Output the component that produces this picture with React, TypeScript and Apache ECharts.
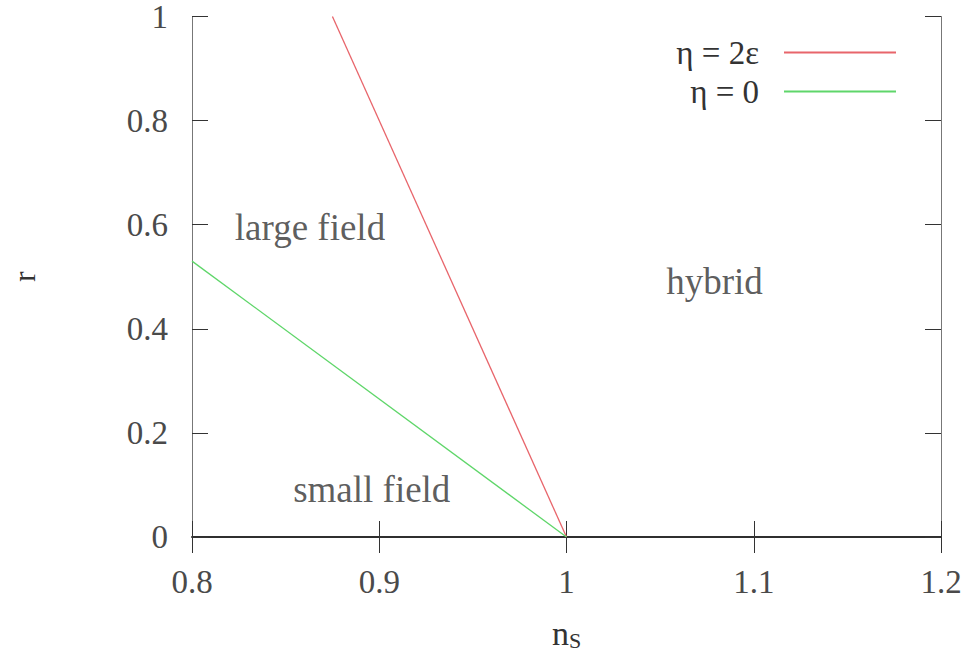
import React, { useEffect, useRef } from "react";
import * as echarts from "echarts";

// Phase boundaries in the (n_S, r) plane
const etaTwoEpsilon: [number, number][] = [
  [0.875, 1.0],
  [1.0, 0.0],
];
const etaZero: [number, number][] = [
  [0.8, 0.53],
  [1.0, 0.0],
];

// Region labels placed at (n_S, r)
const regionNames = ["large field", "hybrid", "small field"];
const regionX = [0.863, 1.079, 0.896];
const regionY = [0.595, 0.49, 0.092];

const seriesNames = ["η = 2ε", "η = 0"];
const seriesColors = ["#e8656b", "#5fd66a"];

const xTicks = [0.8, 0.9, 1.0, 1.1, 1.2];
const yTicks = [0, 0.2, 0.4, 0.6, 0.8, 1];

const FONT = "'Liberation Serif', 'DejaVu Serif', serif";

export default function App() {
  const ref = useRef<HTMLDivElement>(null);

  useEffect(() => {
    if (!ref.current) return;
    const chart = echarts.init(ref.current, undefined, { renderer: "svg" });

    const baseX = {
      type: "value" as const,
      min: xTicks[0],
      max: xTicks[xTicks.length - 1],
      interval: 0.1,
      splitLine: { show: false },
      axisTick: { inside: true, length: 16, lineStyle: { color: "#333", width: 1 } },
      axisLine: { lineStyle: { color: "#222", width: 1.6 } },
    };
    const baseY = {
      type: "value" as const,
      min: yTicks[0],
      max: yTicks[yTicks.length - 1],
      interval: 0.2,
      splitLine: { show: false },
      axisTick: { inside: true, length: 16, lineStyle: { color: "#333", width: 1 } },
      axisLine: { lineStyle: { color: "#777", width: 1 } },
    };

    chart.setOption({
      animation: false,
      backgroundColor: "#ffffff",
      grid: { left: 189, right: 31, top: 16, bottom: 116 },
      xAxis: [
        {
          ...baseX,
          position: "bottom",
          name: "{n|n}{s|S}",
          nameLocation: "middle",
          nameGap: 78,
          nameTextStyle: {
            rich: {
              n: { fontFamily: FONT, fontSize: 34, color: "#333" },
              s: { fontFamily: FONT, fontSize: 22, color: "#333", padding: [14, 0, 0, 0] },
            },
          },
          axisLabel: {
            margin: 28,
            fontFamily: FONT,
            fontSize: 33,
            color: "#4a4a4a",
            formatter: (v: number) => String(+v.toFixed(1)),
          },
        },
        {
          ...baseX,
          position: "top",
          axisLabel: { show: false },
        },
      ],
      yAxis: [
        {
          ...baseY,
          position: "left",
          name: "r",
          nameLocation: "middle",
          nameRotate: 90,
          nameGap: 152,
          nameTextStyle: { fontFamily: FONT, fontSize: 32, color: "#333" },
          axisLabel: {
            margin: 24,
            fontFamily: FONT,
            fontSize: 33,
            color: "#4a4a4a",
            formatter: (v: number) => String(+v.toFixed(1)),
          },
        },
        {
          ...baseY,
          position: "right",
          axisLabel: { show: false },
        },
      ],
      legend: {
        orient: "vertical",
        right: 70,
        top: 31,
        align: "right",
        itemWidth: 112,
        itemHeight: 14,
        itemGap: 6,
        itemStyle: { opacity: 0 },
        textStyle: {
          fontFamily: FONT,
          fontSize: 33,
          color: "#333",
          padding: [0, 20, 0, 0],
        },
        data: seriesNames,
      },
      series: [
        {
          name: seriesNames[0],
          type: "line",
          data: etaTwoEpsilon,
          symbol: "none",
          lineStyle: { color: seriesColors[0], width: 1.3 },
          itemStyle: { color: seriesColors[0] },
        },
        {
          name: seriesNames[1],
          type: "line",
          data: etaZero,
          symbol: "none",
          lineStyle: { color: seriesColors[1], width: 1.3 },
          itemStyle: { color: seriesColors[1] },
        },
        {
          name: "regions",
          type: "scatter",
          data: regionNames.map((n, i) => ({ value: [regionX[i], regionY[i]], name: n })),
          symbolSize: 0,
          silent: true,
          label: {
            show: true,
            position: "inside",
            formatter: (p: any) => p.name,
            fontFamily: FONT,
            fontSize: 37,
            color: "#333",
          },
        },
      ],
    });

    return () => chart.dispose();
  }, []);

  return (
    <div
      ref={ref}
      style={{ position: "fixed", left: 0, top: 0, width: 972, height: 656 }}
    />
  );
}
